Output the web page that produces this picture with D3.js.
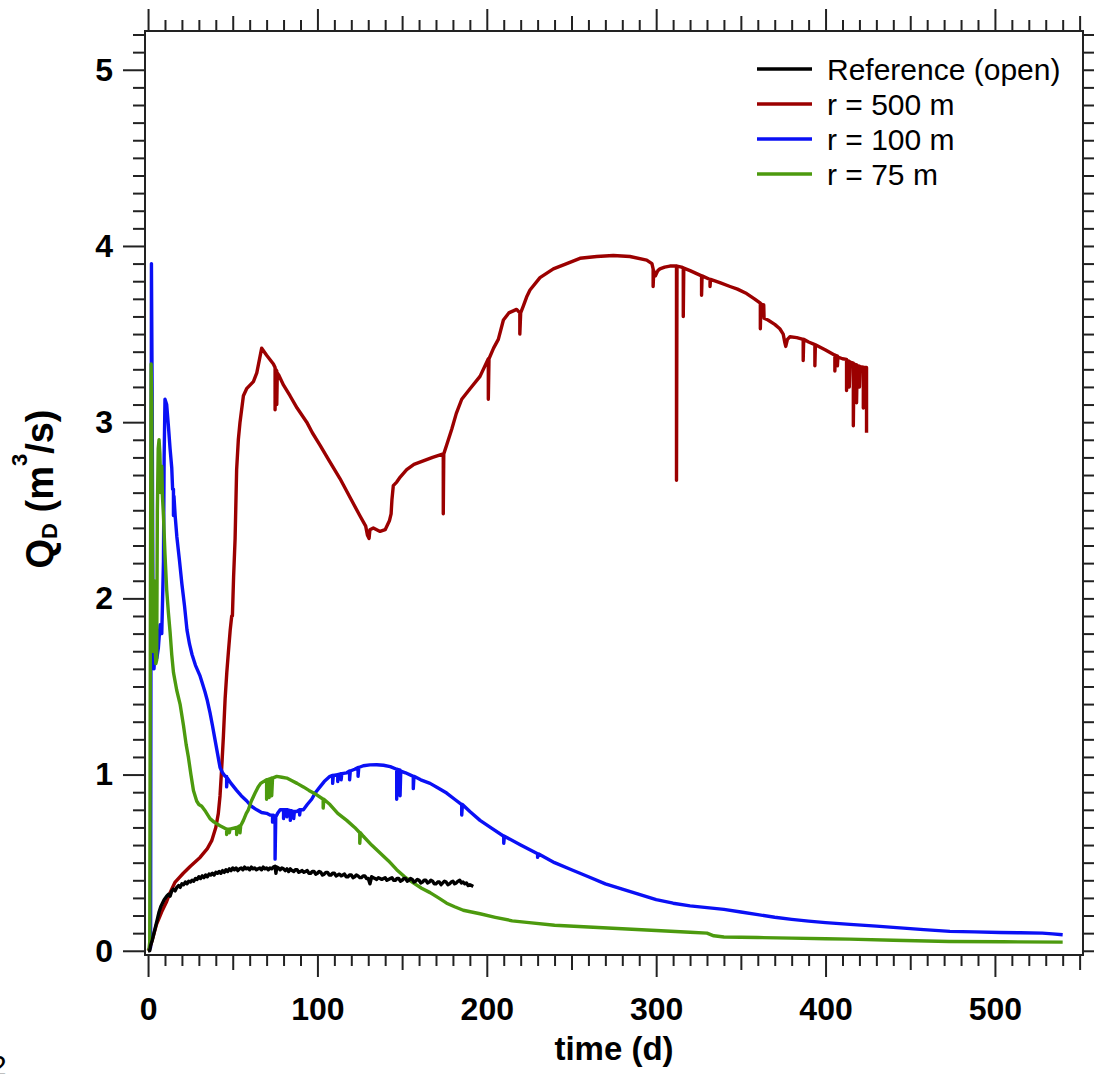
<!DOCTYPE html>
<html>
<head>
<meta charset="utf-8">
<script src="https://cdn.jsdelivr.net/npm/d3@7"></script>
<style>
body { margin: 0; background: #fff; }
svg text { font-family: "Liberation Sans", Arial, sans-serif; }
</style>
</head>
<body>
<svg id="chart" width="1094" height="1074"></svg>
<script>
// series: [time (d), Q_D (m3/s)]
const legendLabels = ["Reference (open)", "r = 500 m", "r = 100 m", "r = 75 m"];
const seriesColors = ["#000000", "#9b0000", "#0a10f5", "#4c9a0e"];
const xMajorTicks = [0, 100, 200, 300, 400, 500];
const yMajorTicks = [0, 1, 2, 3, 4, 5];

const r500 = [[0,0],[1.2,0.02],[3,0.08],[5,0.15],[8,0.22],[11,0.28],[13,0.33],[16,0.39],[20.8,0.44],[25,0.48],[30.7,0.53],
  [35,0.58],[37.6,0.625],[40,0.7],[41.5,0.78],[42.5,0.88],[43.5,1.04],[44.5,1.22],[45.5,1.43],[46.5,1.58],[47.4,1.69],
  [48.5,1.82],[49.4,1.9],[49.8,1.9],[50.5,2.12],[51.4,2.34],[52.3,2.73],[53.3,2.9],[54.3,3.0],[56.3,3.15],[58.2,3.19],
  [62.2,3.23],[64.2,3.28],[67.1,3.42],[70,3.38],[74,3.33],[75,3.31],[75,3.07],[75.3,3.3],[76,3.29],[76,3.1],[76.3,3.28],
  [77,3.27],[80,3.21],[83.8,3.15],[88,3.08],[93.7,3.0],[97,2.94],[101.5,2.87],[107,2.78],[113.3,2.68],[120,2.56],[125,2.47],
  [128.5,2.41],[129.5,2.36],[130.5,2.34],[131,2.39],[133,2.4],[137,2.38],[140,2.39],[142.5,2.44],[143.5,2.48],[144,2.56],
  [144.8,2.64],[146.8,2.66],[149,2.69],[152.7,2.73],[157,2.76],[162.5,2.78],[168,2.8],[174.3,2.82],[174.3,2.48],[174.6,2.82],
  [176.3,2.87],[179.3,2.96],[182,3.05],[185.2,3.13],[190.1,3.19],[196,3.26],[200.9,3.36],[200.9,3.13],[201.3,3.36],[204,3.42],
  [206.8,3.47],[209.8,3.58],[213,3.62],[217.6,3.64],[219.5,3.62],[219.5,3.5],[220,3.62],[221.6,3.66],[223.5,3.71],[225.5,3.75],
  [231.4,3.82],[239.3,3.87],[247.2,3.9],[255,3.93],[264.9,3.94],[274.7,3.946],[284.5,3.94],[294.4,3.92],[297.5,3.9],
  [298.2,3.87],[298.2,3.77],[298.6,3.86],[299.5,3.83],[301,3.86],[302.2,3.87],[305,3.88],[308.1,3.886],[312,3.886],[312,2.67],
  [312.3,3.886],[315,3.88],[316,3.876],[316,3.6],[316.3,3.874],[320,3.86],[326.8,3.83],[326.8,3.72],[327.1,3.83],[331.8,3.81],
  [331.8,3.77],[332.1,3.81],[338,3.79],[343.6,3.77],[348,3.755],[353.4,3.73],[358,3.7],[361.5,3.675],[361.5,3.53],[361.8,3.67],
  [363.5,3.665],[363.7,3.59],[366,3.58],[370,3.555],[373,3.53],[375,3.5],[376,3.45],[376.5,3.43],[377.5,3.47],[379,3.485],
  [383,3.48],[386.8,3.47],[386.8,3.35],[387.1,3.47],[390,3.455],[393.7,3.44],[393.7,3.32],[394,3.44],[400,3.41],[405.5,3.38],
  [405.5,3.29],[405.8,3.38],[407,3.375],[407,3.32],[407.3,3.37],[410,3.36],[412.4,3.356],[412.4,3.18],[412.8,3.35],[414,3.345],
  [414,3.2],[414.5,3.34],[416.4,3.335],[416.4,2.98],[416.8,3.33],[418.3,3.325],[418.3,3.11],[418.7,3.32],[420,3.318],[420,3.2],
  [420.4,3.315],[422.3,3.312],[422.3,3.08],[422.7,3.31],[424.2,3.31],[424.2,2.94]];

const r100 = [[0.5,0],[1.5,0.02],[2,3.9],[2.4,3.2],[3,1.65],[3.5,1.6],[4.5,1.75],[5.2,1.66],[6.1,1.72],[7.1,1.85],[8.1,1.8],
  [8.6,2.0],[9.1,2.21],[9.5,2.8],[10,3.13],[11,3.1],[12,2.98],[13,2.85],[14,2.74],[14.5,2.62],[15,2.62],[15,2.47],[15.3,2.58],
  [16,2.47],[17,2.35],[18.5,2.22],[20,2.08],[21.5,1.96],[23,1.82],[24.5,1.74],[26,1.68],[28,1.62],[30.7,1.56],[32,1.52],
  [33.6,1.47],[35,1.42],[36.6,1.35],[38,1.28],[39.5,1.2],[41,1.12],[42.5,1.04],[44,1.01],[45.5,0.99],[46.4,0.99],[46.4,0.93],
  [46.8,0.98],[49,0.95],[52.3,0.91],[55,0.88],[58.3,0.85],[61,0.82],[64.2,0.8],[67,0.785],[70,0.78],[72,0.77],[73.5,0.77],
  [73.5,0.73],[74,0.77],[75,0.76],[75,0.52],[75.4,0.76],[76.5,0.78],[78,0.8],[80,0.8],[80,0.75],[80.4,0.8],[82,0.8],[82,0.76],
  [82.4,0.8],[84,0.795],[84,0.74],[84.4,0.795],[86,0.79],[86,0.75],[86.4,0.79],[87.8,0.79],[89.5,0.8],[89.5,0.77],[89.9,0.8],
  [91.7,0.8],[94,0.83],[96.6,0.86],[99,0.9],[101.5,0.93],[104,0.96],[107.4,0.99],[109,0.995],[109,0.95],[109.4,0.995],
  [112,1.0],[112,0.96],[112.4,1.0],[114,1.005],[114,0.97],[114.4,1.005],[117.3,1.01],[119,1.02],[119,0.97],[119.4,1.02],
  [122,1.03],[124,1.04],[124,0.99],[124.4,1.04],[127.1,1.05],[131,1.055],[135,1.056],[139,1.053],[143,1.045],[146.8,1.03],
  [146.8,0.86],[147.2,1.03],[148.8,1.025],[148.8,0.88],[149.2,1.02],[152,1.01],[156.6,0.99],[156.6,0.92],[157,0.99],
  [161,0.97],[166.5,0.95],[171,0.925],[176.3,0.895],[181,0.86],[185.2,0.83],[185.2,0.77],[185.6,0.83],[190,0.79],[196,0.74],
  [203,0.695],[210,0.65],[210,0.61],[210.4,0.65],[220,0.6],[230,0.55],[230,0.53],[230.4,0.55],[240,0.5],[250,0.46],
  [260,0.42],[270,0.38],[280,0.35],[290,0.32],[300,0.29],[310,0.27],[320,0.255],[330,0.245],[340,0.235],[350,0.22],
  [360,0.205],[370,0.19],[380,0.178],[390,0.168],[400,0.16],[414.4,0.15],[430,0.14],[444,0.13],[458,0.12],[473.4,0.11],
  [488,0.107],[503,0.104],[515,0.102],[528,0.1],[534,0.096],[540,0.091]];

const r75 = [[0.5,0],[1,0.05],[1.4,2.0],[1.8,3.33],[2.2,3.1],[2.6,2.2],[3,1.7],[3.5,2.1],[4,1.75],[4.6,1.63],[5.1,1.65],
  [5.5,2.5],[6,2.85],[6.5,2.9],[7,2.82],[7.5,2.6],[8.1,2.75],[8.5,2.58],[9.1,2.47],[10,2.25],[11,2.05],[12,1.92],[13,1.81],
  [14,1.68],[15,1.58],[16.9,1.48],[18.9,1.4],[20.9,1.28],[22.5,1.17],[23.8,1.1],[25.3,1.0],[26.8,0.91],[28.7,0.85],[30,0.83],
  [31.7,0.82],[34,0.79],[36.6,0.75],[39,0.73],[42.5,0.71],[44.5,0.7],[46.4,0.69],[46.4,0.66],[46.8,0.69],[48,0.69],[48,0.67],
  [48.4,0.69],[50,0.695],[52.3,0.7],[52.3,0.66],[52.7,0.7],[54.3,0.71],[54.3,0.67],[54.7,0.71],[56.3,0.74],[58,0.78],
  [59.2,0.8],[61,0.85],[63.2,0.895],[65,0.93],[66.5,0.95],[68.1,0.96],[70,0.97],[70,0.86],[70.4,0.97],[71.5,0.975],
  [71.5,0.87],[72,0.975],[73,0.98],[73,0.88],[73.5,0.98],[76,0.99],[79,0.985],[81.9,0.98],[85,0.965],[88,0.95],[91.7,0.93],
  [95,0.91],[99.6,0.885],[103.4,0.86],[103.4,0.81],[103.8,0.86],[107.4,0.83],[112,0.78],[117.3,0.74],[122,0.7],[125,0.67],
  [125,0.61],[125.4,0.67],[127.1,0.65],[132,0.6],[137,0.555],[142,0.51],[146.8,0.46],[151.5,0.42],[156.6,0.385],
  [161.5,0.355],[166.5,0.33],[171.5,0.3],[176.3,0.27],[181,0.25],[186.1,0.23],[191,0.22],[196,0.21],[205,0.19],[215,0.17],
  [225,0.16],[240,0.145],[260,0.135],[280,0.125],[300,0.115],[320,0.105],[330,0.1],[334,0.085],[340,0.078],[360,0.075],
  [380,0.072],[400,0.068],[414,0.066],[440,0.06],[473,0.053],[505,0.051],[540,0.049]];

const refOpen = [[0,0],[1,0],[1.5,0.03],[2.5,0.06],[3.5,0.1],[4.5,0.14],[5.5,0.18],[6.5,0.22],[7.5,0.25],[8.5,0.27],[9.5,0.29],
  [11,0.31],[12,0.32],[13,0.31],[14,0.34],[15,0.35],[16,0.34],[17,0.36],[18,0.37],[19,0.36],[20,0.38],[21,0.375],[22,0.39],
  [23,0.38],[24,0.395],[25,0.39],[26,0.4],[27,0.395],[28,0.41],[29,0.405],[30,0.42],[31,0.41],[32,0.425],[33,0.415],
  [34,0.43],[35,0.42],[36,0.435],[37,0.43],[38,0.44],[39,0.43],[40,0.445],[41,0.44],[42,0.45],[43,0.44],[44,0.455],
  [45,0.445],[46,0.46],[47,0.45],[48,0.465],[49,0.455],[50,0.47],[51,0.46],[52,0.47],[53,0.455],[54,0.465],[55,0.47],
  [56,0.46],[57,0.475],[58,0.465],[59,0.47],[60,0.46],[61,0.475],[62,0.465],[63,0.47],[64,0.46],[65,0.465],[66,0.47],
  [67,0.46],[68,0.475],[69,0.465],[70,0.47],[71,0.46],[72,0.47],[73,0.465],[74,0.475],[75,0.48],[75.5,0.44],[76,0.475],
  [77,0.47],[78,0.46],[79,0.47],[80,0.465],[81,0.455],[82,0.465],[83,0.45],[84,0.465],[85,0.455],[86,0.45],[87,0.46],
  [88,0.46],[89,0.445],[90,0.45],[91,0.455],[92,0.445],[93,0.45],[94,0.455],[95,0.44],[96,0.44],[97,0.45],[98,0.45],
  [99,0.435],[100,0.44],[101,0.45],[102,0.445],[103,0.43],[104,0.435],[105,0.445],[106,0.445],[107,0.43],[108,0.43],
  [109,0.44],[110,0.44],[111,0.425],[112,0.43],[113,0.435],[114,0.425],[115,0.43],[116,0.435],[117,0.42],[118,0.42],
  [119,0.43],[120,0.43],[121,0.415],[122,0.42],[123,0.43],[124,0.425],[125,0.415],[126,0.415],[127,0.425],[128,0.425],
  [129,0.41],[130,0.41],[131,0.38],[132,0.42],[133,0.415],[134,0.41],[135,0.405],[136,0.415],[137,0.41],[138,0.405],
  [139,0.41],[140,0.415],[141,0.4],[142,0.405],[143,0.41],[144,0.415],[145,0.4],[146,0.4],[147,0.41],[148,0.41],
  [149,0.395],[150,0.4],[151,0.41],[152,0.41],[153,0.395],[154,0.4],[155,0.41],[156,0.405],[157,0.39],[158,0.395],
  [159,0.405],[160,0.4],[161,0.385],[162,0.39],[163,0.4],[164,0.4],[165,0.385],[166,0.39],[167,0.4],[168,0.395],
  [169,0.38],[170,0.38],[171,0.39],[172,0.39],[173,0.375],[174,0.385],[175,0.395],[176,0.39],[177,0.375],[178,0.38],
  [179,0.39],[180,0.395],[181,0.38],[182,0.385],[183,0.395],[184,0.4],[185,0.385],[186,0.39],[187,0.38],[188,0.385],
  [189,0.37],[190,0.375],[191,0.37],[192,0.365]];

const svg = d3.select("#chart");
const x = d3.scaleLinear().domain([-1.8, 552]).range([145, 1083]);
const y = d3.scaleLinear().domain([-0.024, 5.22]).range([955, 31]);

const xMinor = d3.range(10, 551, 10).filter(v => v % 50 !== 0);
const xMid = d3.range(50, 551, 100);
const yMinor = d3.range(1, 53).map(v => v / 10).filter(v => Math.abs(v - Math.round(v)) > 0.01);

function styleAxis(g) {
  g.select(".domain").remove();
  g.selectAll(".tick line").attr("stroke", "#222").attr("stroke-width", 2);
}

function styleLabels(g) {
  g.selectAll("text").attr("font-size", 32).attr("font-weight", "bold").attr("fill", "#000")
    .attr("font-family", "Liberation Sans, Arial, sans-serif");
}

// bottom axis
const axBottom = svg.append("g").attr("transform", "translate(0,955)");
axBottom.append("g").call(d3.axisBottom(x).tickValues(xMinor).tickSize(11).tickFormat("")).call(styleAxis);
axBottom.append("g").call(d3.axisBottom(x).tickValues(xMid).tickSize(15).tickFormat("")).call(styleAxis);
axBottom.append("g").call(d3.axisBottom(x).tickValues(xMajorTicks).tickSize(22).tickPadding(20).tickFormat(d3.format("d")))
  .call(styleAxis).call(styleLabels);

// top axis
const axTop = svg.append("g").attr("transform", "translate(0,31)");
axTop.append("g").call(d3.axisTop(x).tickValues(xMinor).tickSize(11).tickFormat("")).call(styleAxis);
axTop.append("g").call(d3.axisTop(x).tickValues(xMid).tickSize(15).tickFormat("")).call(styleAxis);
axTop.append("g").call(d3.axisTop(x).tickValues(xMajorTicks).tickSize(22).tickFormat("")).call(styleAxis);

// left axis
const axLeft = svg.append("g").attr("transform", "translate(145,0)");
axLeft.append("g").call(d3.axisLeft(y).tickValues(yMinor).tickSize(12).tickFormat("")).call(styleAxis);
axLeft.append("g").call(d3.axisLeft(y).tickValues(yMajorTicks).tickSize(22).tickPadding(10).tickFormat(d3.format("d")))
  .call(styleAxis).call(styleLabels);

// right axis
const axRight = svg.append("g").attr("transform", "translate(1083,0)");
axRight.append("g").call(d3.axisRight(y).tickValues(yMinor).tickSize(11).tickFormat("")).call(styleAxis);
axRight.append("g").call(d3.axisRight(y).tickValues(yMajorTicks).tickSize(22).tickFormat("")).call(styleAxis);

// frame
svg.append("rect")
  .attr("x", x.range()[0]).attr("y", y.range()[1])
  .attr("width", x.range()[1] - x.range()[0]).attr("height", y.range()[0] - y.range()[1])
  .attr("fill", "none").attr("stroke", "#222").attr("stroke-width", 2);

svg.append("clipPath").attr("id", "plotclip").append("rect")
  .attr("x", 146).attr("y", 32).attr("width", 936).attr("height", 922);

const line = d3.line().x(d => x(d[0])).y(d => y(d[1]));
const plot = svg.append("g").attr("clip-path", "url(#plotclip)");
const drawOrder = [[r500, 1], [r100, 2], [r75, 3], [refOpen, 0]];
drawOrder.forEach(([data, ci]) => {
  plot.append("path")
    .datum(data)
    .attr("d", line)
    .attr("fill", "none")
    .attr("stroke", seriesColors[ci])
    .attr("stroke-width", 3.4)
    .attr("stroke-linejoin", "round");
});

// legend
const legend = svg.append("g").attr("transform", "translate(757,69)");
legendLabels.forEach((lab, i) => {
  const row = legend.append("g").attr("transform", `translate(0,${i * 35})`);
  row.append("line").attr("x1", 0).attr("x2", 55).attr("y1", 0).attr("y2", 0)
    .attr("stroke", seriesColors[i]).attr("stroke-width", 3.4);
  row.append("text").attr("x", 70).attr("y", 10.5).attr("font-size", 30).attr("fill", "#000").text(lab);
});

// axis titles
svg.append("text")
  .attr("x", 614).attr("y", 1060)
  .attr("text-anchor", "middle").attr("font-size", 33).attr("font-weight", "bold")
  .text("time (d)");

const yt = svg.append("text")
  .attr("transform", "translate(53,489) rotate(-90)")
  .attr("text-anchor", "middle").attr("font-size", 38).attr("font-weight", "bold");
yt.append("tspan").text("Q");
yt.append("tspan").attr("font-size", 22).attr("dy", 4).text("D");
yt.append("tspan").attr("dy", -4).text(" (m");
yt.append("tspan").attr("font-size", 22).attr("dy", -26).text("3");
yt.append("tspan").attr("dy", 26).text("/s)");

// stray page fragment at lower left
svg.append("text").attr("x", -10).attr("y", 1076).attr("font-size", 30).text("2");
</script>
</body>
</html>
